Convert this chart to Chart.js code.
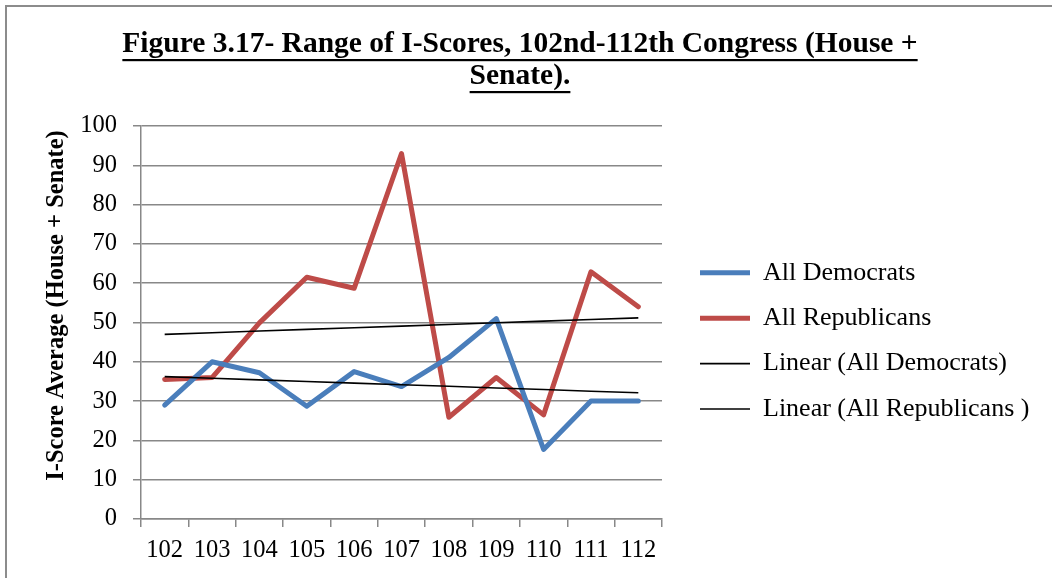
<!DOCTYPE html>
<html>
<head>
<meta charset="utf-8">
<script src="https://cdn.jsdelivr.net/npm/chart.js@4.4.1/dist/chart.umd.min.js"></script>
<style>
  html, body { margin: 0; padding: 0; background: #ffffff; }
  #wrap { width: 1052px; height: 578px; position: relative; }
</style>
</head>
<body>
<div id="wrap"><canvas id="c" width="1052" height="578"></canvas></div>
<script>
// ---- Data ----
const categories = ['102', '103', '104', '105', '106', '107', '108', '109', '110', '111', '112'];
const allDemocrats = [29.0, 40.0, 37.2, 28.7, 37.5, 33.7, 41.1, 51.0, 17.7, 30.0, 30.0];
const allRepublicans = [35.5, 36.0, 49.9, 61.5, 58.7, 93.0, 25.9, 36.0, 26.5, 62.9, 54.0];
const seriesNames = ['All Democrats', 'All Republicans', 'Linear (All Democrats)', 'Linear (All Republicans )'];
const titleLines = ['Figure 3.17- Range of I-Scores, 102nd-112th Congress (House +', 'Senate).'];
const yAxisTitle = 'I-Score Average (House + Senate)';
const yMin = 0, yMax = 100, yStep = 10;

// Linear (least squares) trendlines, as the spreadsheet's "Linear" trendline
function linearTrend(values) {
  const n = values.length;
  let sx = 0, sy = 0, sxx = 0, sxy = 0;
  values.forEach((v, i) => { sx += i; sy += v; sxx += i * i; sxy += i * v; });
  const slope = (n * sxy - sx * sy) / (n * sxx - sx * sx);
  const icpt = (sy - slope * sx) / n;
  return values.map((_, i) => icpt + slope * i);
}
const trendDemocrats = linearTrend(allDemocrats);
const trendRepublicans = linearTrend(allRepublicans);

// ---- Styling ----
const FONT = "'Liberation Serif', 'Times New Roman', serif";
const GRID = '#888888';
const BLUE = '#4A7EBB';
const RED = '#BE4B48';
const TITLE_SIZE = 29.5;

const framePlugin = {
  id: 'frame',
  beforeDraw(chart) {
    const ctx = chart.ctx;
    ctx.save();
    ctx.strokeStyle = '#8c8c8c';
    ctx.lineWidth = 2;
    ctx.strokeRect(6, 6, 1200, 800);
    ctx.restore();
  },
  afterLayout(chart) {
    const lg = chart.legend;
    if (lg && lg.columnSizes && lg.columnSizes.length) {
      const p = lg.options.labels.padding;
      const w = lg.width;
      lg.left = 700 - p;
      lg.right = lg.left + w;
      const colH = lg.columnSizes[0].height;
      const Y0 = 259.8;
      lg.top = Y0 - p - 60;
      lg.bottom = Y0 + colH + 60;
      lg.height = lg.bottom - lg.top;
    }
    const tb = chart.titleBlock;
    if (tb) { tb.left = 0; tb.right = 1040; tb.width = 1040; }
  },
  afterDraw(chart) {
    const ctx = chart.ctx;
    // underline of the title lines
    const tb = chart.titleBlock;
    if (tb) {
      const f = Chart.helpers.toFont(tb.options.font);
      const pad = Chart.helpers.toPadding(tb.options.padding);
      const cx = (tb.left + tb.right) / 2;
      ctx.save();
      ctx.font = f.string;
      ctx.fillStyle = '#000';
      titleLines.forEach((t, i) => {
        const mid = tb.top + pad.top + f.lineHeight / 2 + i * f.lineHeight;
        const w = ctx.measureText(t).width;
        ctx.fillRect(cx - w / 2, mid + 14.5, w, 2.2);
      });
      ctx.restore();
    }
    // vertical axis title
    ctx.save();
    ctx.font = 'bold 24.5px ' + FONT;
    ctx.fillStyle = '#000';
    ctx.translate(63.3, 305.5);
    ctx.rotate(-Math.PI / 2);
    ctx.textAlign = 'center';
    ctx.textBaseline = 'alphabetic';
    ctx.fillText(yAxisTitle, 0, 0);
    ctx.restore();
  }
};

new Chart(document.getElementById('c'), {
  type: 'line',
  data: {
    labels: categories,
    datasets: [
      { label: seriesNames[0], data: allDemocrats, borderColor: BLUE, backgroundColor: BLUE, borderWidth: 5,
        borderCapStyle: 'round', borderJoinStyle: 'round', pointRadius: 0, tension: 0, order: 1 },
      { label: seriesNames[1], data: allRepublicans, borderColor: RED, backgroundColor: RED, borderWidth: 5,
        borderCapStyle: 'round', borderJoinStyle: 'round', pointRadius: 0, tension: 0, order: 1 },
      { label: seriesNames[2], data: trendDemocrats, borderColor: '#000', backgroundColor: '#000', borderWidth: 1.6,
        pointRadius: 0, tension: 0, order: 0 },
      { label: seriesNames[3], data: trendRepublicans, borderColor: '#000', backgroundColor: '#000', borderWidth: 1.6,
        pointRadius: 0, tension: 0, order: 0 }
    ]
  },
  options: {
    responsive: false,
    animation: false,
    devicePixelRatio: 1,
    layout: { padding: { left: 0, right: 0, top: 0, bottom: 0 } },
    plugins: {
      tooltip: { enabled: false },
      title: {
        display: true,
        text: titleLines,
        color: '#000',
        font: { family: FONT, size: TITLE_SIZE, weight: 'bold', lineHeight: 32 / TITLE_SIZE },
        padding: { top: 28.5, bottom: 33.5 }
      },
      legend: {
        position: 'right',
        maxWidth: 600,
        labels: {
          usePointStyle: true,
          pointStyle: 'line',
          pointStyleWidth: 50,
          boxWidth: 50,
          padding: 19.4,
          color: '#000',
          font: { family: FONT, size: 26 },
          sort: (a, b) => a.datasetIndex - b.datasetIndex
        }
      }
    },
    scales: {
      x: {
        type: 'category',
        offset: true,
        grid: { offset: true, drawOnChartArea: false, drawTicks: true, tickLength: 8, color: GRID, lineWidth: 1.5 },
        border: { display: true, color: GRID, width: 1.5 },
        ticks: { color: '#000', font: { family: FONT, size: 24.5 }, padding: 8.8, maxRotation: 0, autoSkip: false },
        afterFit(s) { s.height = 59; }
      },
      y: {
        min: yMin, max: yMax,
        grid: { color: GRID, lineWidth: 1.5, drawTicks: true, tickLength: 8 },
        border: { display: true, color: GRID, width: 1.5 },
        ticks: { stepSize: yStep, color: '#000', font: { family: FONT, size: 24.5 }, padding: 16 },
        afterFit(s) { s.width = 141; }
      },
      y2: {
        position: 'right',
        display: true,
        grid: { display: false, drawTicks: false },
        border: { display: false },
        ticks: { display: false },
        afterFit(s) {
          const lg = s.chart.legend;
          const w = (lg && Number.isFinite(lg.width) && lg.width > 0) ? lg.width : 360;
          s.width = Math.max(0, 1052 - 662 - w);
        }
      }
    }
  },
  plugins: [framePlugin]
});
</script>
</body>
</html>
